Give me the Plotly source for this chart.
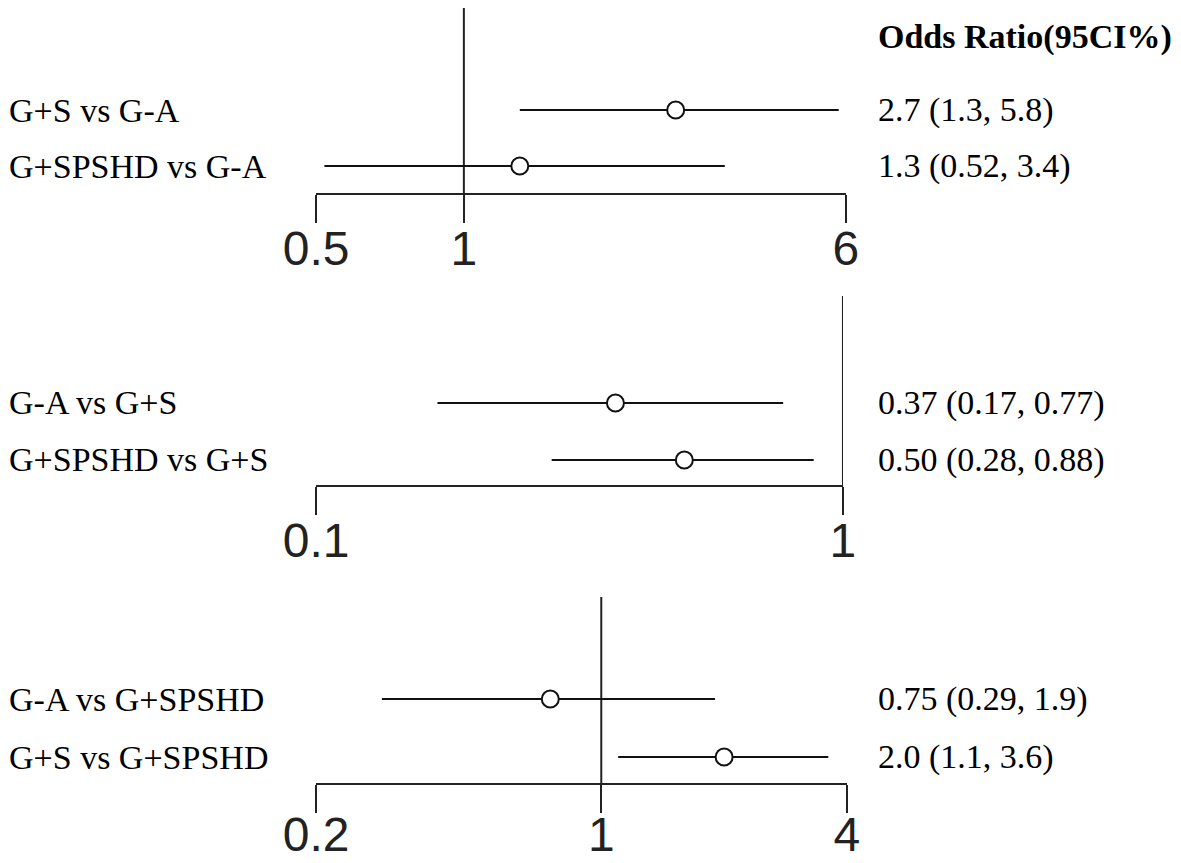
import plotly.graph_objects as go
import math

# Target picture size, and the page's default body margin
W_T, H_T = 1181, 863
OFF = 8
W, H = W_T - OFF, H_T - OFF


def fx(px):
    return (px - OFF) / W


def fy(py):
    return 1 - (py - OFF) / H


# ---- data ----
labels_1 = ["G+S vs G-A", "G+SPSHD vs G-A"]
or_1 = [2.7, 1.3]
lo_1 = [1.3, 0.52]
hi_1 = [5.8, 3.4]
text_1 = ["2.7 (1.3, 5.8)", "1.3 (0.52, 3.4)"]
ticks_1 = [0.5, 1, 6]

labels_2 = ["G-A vs G+S", "G+SPSHD vs G+S"]
or_2 = [0.37, 0.50]
lo_2 = [0.17, 0.28]
hi_2 = [0.77, 0.88]
text_2 = ["0.37 (0.17, 0.77)", "0.50 (0.28, 0.88)"]
ticks_2 = [0.1, 1]

labels_3 = ["G-A vs G+SPSHD", "G+S vs G+SPSHD"]
or_3 = [0.75, 2.0]
lo_3 = [0.29, 1.1]
hi_3 = [1.9, 3.6]
text_3 = ["0.75 (0.29, 1.9)", "2.0 (1.1, 3.6)"]
ticks_3 = [0.2, 1, 4]

header = "Odds Ratio(95CI%)"

panels = [
    dict(labels=labels_1, OR=or_1, lo=lo_1, hi=hi_1, text=text_1, ticks=ticks_1,
         xpx=(316, 846), ypx=(0, 193), rows_px=(110, 166), standoff=-16),
    dict(labels=labels_2, OR=or_2, lo=lo_2, hi=hi_2, text=text_2, ticks=ticks_2,
         xpx=(316, 843), ypx=(296, 485), rows_px=(403, 460), standoff=-16),
    dict(labels=labels_3, OR=or_3, lo=lo_3, hi=hi_3, text=text_3, ticks=ticks_3,
         xpx=(316, 847), ypx=(597, 783), rows_px=(699, 757), standoff=-20),
]

fig = go.Figure()
serif = "Liberation Serif, Times New Roman, serif"
sans = "Liberation Sans, Arial, sans-serif"

annotations = []
shapes = []
for i, p in enumerate(panels, start=1):
    xa = "x" if i == 1 else f"x{i}"
    ya = "y" if i == 1 else f"y{i}"
    rows = [1, 2]
    for r, lo, hi in zip(rows, p["lo"], p["hi"]):
        fig.add_trace(go.Scatter(x=[lo, hi], y=[r, r], mode="lines",
                                 line=dict(color="#111", width=2),
                                 xaxis=xa, yaxis=ya, showlegend=False,
                                 hoverinfo="skip"))
    fig.add_trace(go.Scatter(x=p["OR"], y=rows, mode="markers",
                             marker=dict(symbol="circle", size=17, color="white",
                                         line=dict(color="#111", width=2)),
                             xaxis=xa, yaxis=ya, showlegend=False))
    x0, x1 = p["xpx"]
    ytop, ybot = p["ypx"]
    r1, r2 = p["rows_px"]
    sp = r2 - r1
    y_bot_val = 2 + (ybot - r2) / sp
    y_top_val = 1 - (r1 - max(ytop, OFF)) / sp
    lt = [math.log10(p["ticks"][0]), math.log10(p["ticks"][-1])]
    eps = 1e-4
    fig.layout[("xaxis" if i == 1 else f"xaxis{i}")] = dict(
        type="log", range=[lt[0] - eps, lt[1] + eps],
        domain=[fx(x0), fx(x1)], anchor=ya, automargin=False,
        tickvals=p["ticks"], ticktext=[f"{t:g}" for t in p["ticks"]],
        ticks="outside", ticklen=28, tickwidth=2, tickcolor="#222",
        ticklabelstandoff=p["standoff"],
        showline=True, linecolor="#222", linewidth=2,
        showgrid=False, zeroline=False,
        tickfont=dict(family=sans, size=48, color="#222"),
    )
    fig.layout[("yaxis" if i == 1 else f"yaxis{i}")] = dict(
        range=[y_bot_val, y_top_val], domain=[fy(ybot), min(1, fy(ytop))],
        anchor=xa, visible=False, showgrid=False, zeroline=False,
        automargin=False,
    )
    shapes.append(dict(type="line", xref=xa, yref=f"{ya} domain",
                       x0=1, x1=1, y0=0, y1=1,
                       line=dict(color="#222", width=2), layer="below"))
    for r, lab, txt in zip(rows, p["labels"], p["text"]):
        annotations.append(dict(x=0, xref="paper", y=r, yref=ya, text=lab,
                                xanchor="left", yanchor="middle", showarrow=False,
                                borderpad=0,
                                font=dict(family=serif, size=34, color="black")))
        annotations.append(dict(x=fx(877), xref="paper", y=r, yref=ya, text=txt,
                                xanchor="left", yanchor="middle", showarrow=False,
                                borderpad=0,
                                font=dict(family=serif, size=34, color="black")))

annotations.append(dict(x=fx(877), xref="paper", y=fy(37), yref="paper",
                        text=f"<b>{header}</b>", xanchor="left", yanchor="middle",
                        showarrow=False, borderpad=0,
                        font=dict(family=serif, size=34, color="black")))

fig.update_layout(width=W, height=H, margin=dict(l=0, r=0, t=0, b=0, pad=0),
                  paper_bgcolor="white", plot_bgcolor="white",
                  annotations=annotations, shapes=shapes)

fig.write_html("out.html")
